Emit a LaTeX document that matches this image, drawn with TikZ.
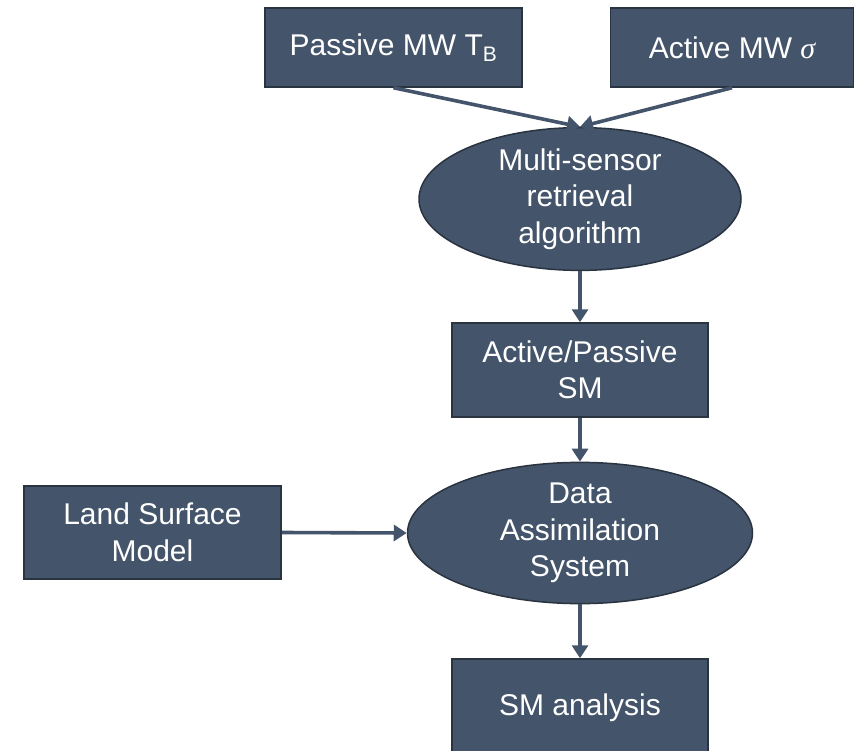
\documentclass[tikz,border=0pt]{standalone}
\usepackage{fontspec}
\setmainfont{Liberation Sans}
\newfontfamily\sigmafont{Liberation Serif}
\usetikzlibrary{shapes.geometric,arrows.meta}
\definecolor{boxfill}{HTML}{44546A}
\definecolor{boxline}{HTML}{2A3340}
\definecolor{arrowcol}{HTML}{44546A}
\tikzset{
  stepbox/.style={rectangle, fill=boxfill, draw=boxline, line width=1.5pt, inner sep=0pt,
    text=white, align=center, font=\fontsize{30}{36.5}\selectfont},
  ovalbox/.style={ellipse, fill=boxfill, draw=boxline, line width=1.5pt, inner sep=0pt,
    text=white, align=center, font=\fontsize{30}{36.5}\selectfont},
  flow/.style={draw=arrowcol, line width=3.6pt, -{Triangle[length=13pt,width=16pt]}}
}
\begin{document}
\begin{tikzpicture}[x=1pt,y=-1pt]
\useasboundingbox (0,0) rectangle (856,751);
\node[stepbox, minimum width=257pt, minimum height=79pt] (pas) at (393.5,47.5) {Passive MW T\textsubscript{B}};
\node[stepbox, minimum width=243pt, minimum height=79pt] (act) at (732,47.5) {Active MW {\sigmafont\itshape σ}};
\node[ovalbox, minimum width=322pt, minimum height=138pt] (ell1) at (580,199) {Multi-sensor\\retrieval\\algorithm};
\node[stepbox, minimum width=256pt, minimum height=94pt] (aps) at (580,370) {Active/Passive\\SM};
\node[ovalbox, minimum width=345pt, minimum height=140pt] (ell2) at (580,533) {Data\\Assimilation\\System};
\node[stepbox, minimum width=257pt, minimum height=93pt] (lsm) at (152.5,532.5) {Land Surface\\Model};
\node[stepbox, minimum width=256pt, minimum height=98pt] (sma) at (580,708) {SM analysis};
\draw[flow] (pas.south) -- (ell1.north);
\draw[flow] (act.south) -- (ell1.north);
\draw[flow] (ell1.south) -- (aps.north);
\draw[flow] (aps.south) -- (ell2.north);
\draw[flow] (lsm.east) -- (ell2.west);
\draw[flow] (ell2.south) -- (sma.north);
\end{tikzpicture}
\end{document}
